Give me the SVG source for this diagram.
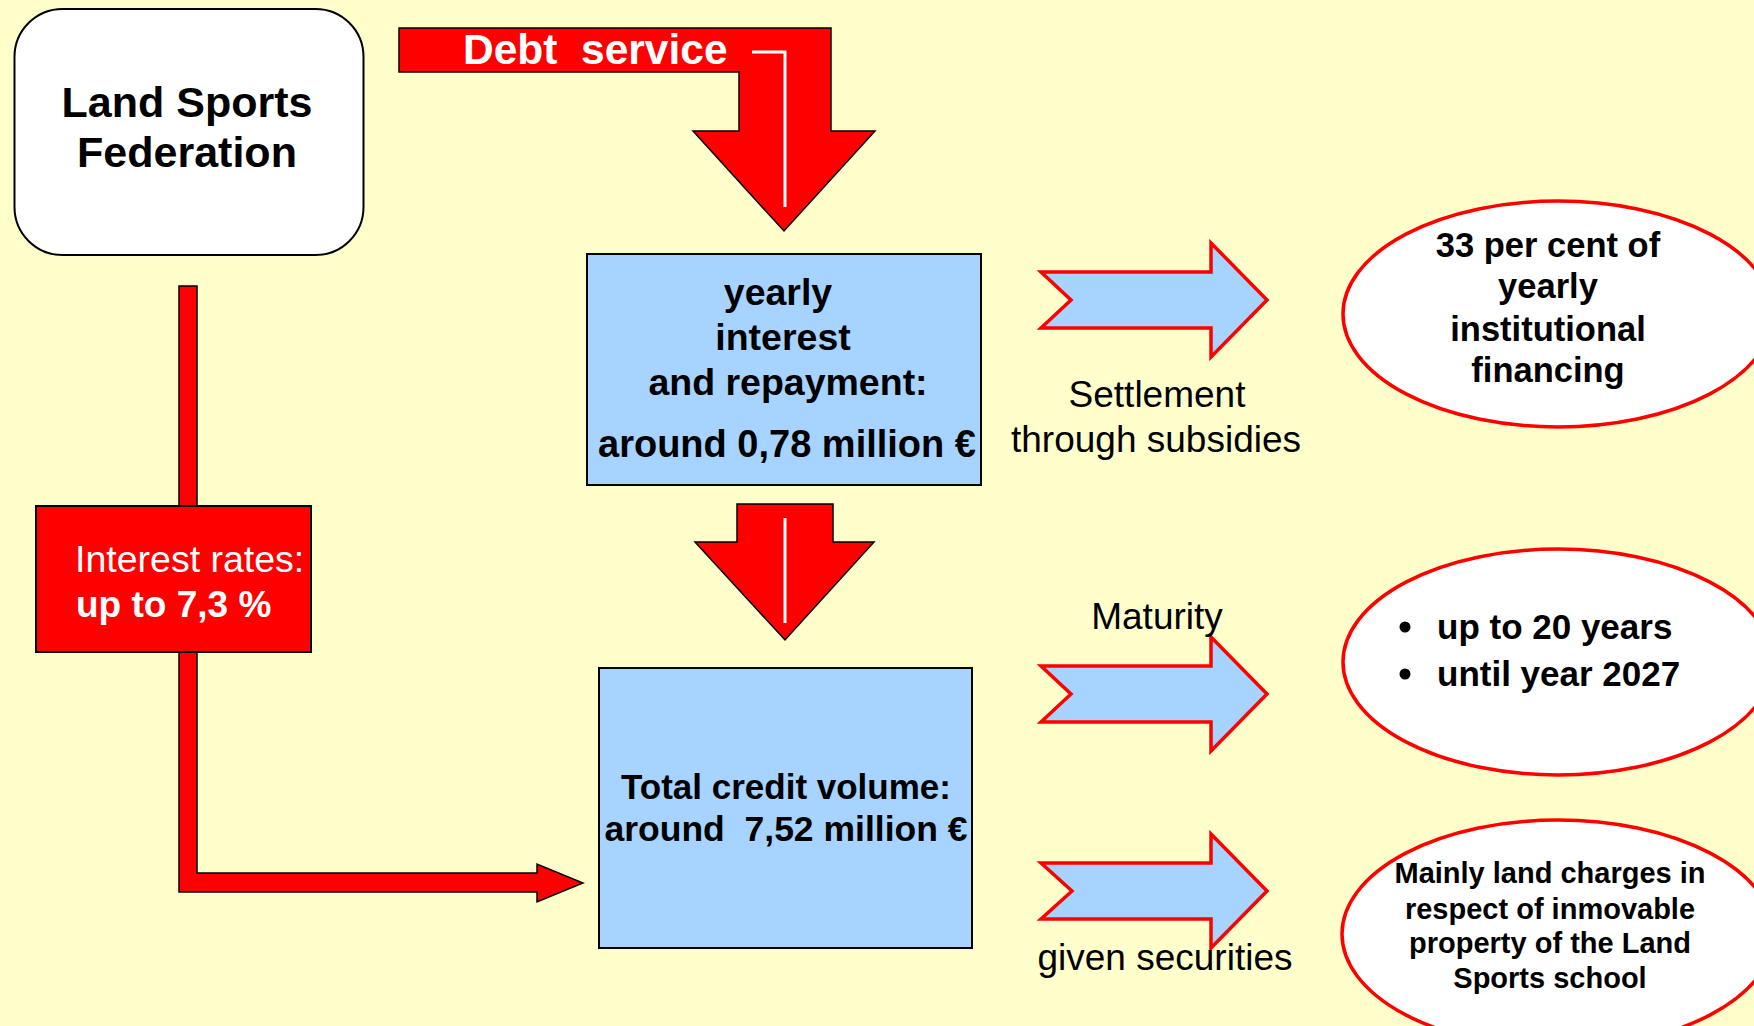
<svg xmlns="http://www.w3.org/2000/svg" width="1754" height="1026" viewBox="0 0 1754 1026">
  <style>
    .bg { fill: #FFFFCC; }
    .redarrow { fill: #FF0000; stroke: #000000; stroke-width: 1.5; stroke-linejoin: miter; }
    .whiteline { fill: none; stroke: #FFFFFF; stroke-width: 3; }
    .chevron { fill: #A6D3FF; stroke: #FF0000; stroke-width: 3.5; stroke-linejoin: miter; }
    .bluebox { fill: #A6D3FF; stroke: #000000; stroke-width: 2; }
    .oval { fill: #FFFFFF; stroke: #FF0000; stroke-width: 3.5; }
    .t { font-family: "Liberation Sans", Arial, sans-serif; fill: #000000; }
    .b { font-weight: bold; }
    .w { fill: #FFFFFF; }
    .mid { text-anchor: middle; }
  </style>

  <rect class="bg" x="0" y="0" width="1754" height="1026"/>

  <!-- connectors -->
  <g id="connectors">
    <!-- debt service bent arrow -->
    <path class="redarrow" d="M399,28 L831,28 L831,131 L875,131 L784,231 L693,131 L739,131 L739,72 L399,72 Z"/>
    <path class="whiteline" d="M752,52 L785,52 L785,207"/>
    <!-- interest rate L-shaped arrow into credit volume -->
    <path class="redarrow" d="M179,286 L197,286 L197,873 L537,873 L537,864 L583,883 L537,902 L537,892 L179,892 Z"/>
    <!-- down arrow between the two blue boxes -->
    <path class="redarrow" d="M737,504 L833,504 L833,542 L874,542 L785,640 L695,542 L737,542 Z"/>
    <path class="whiteline" d="M785,518 L785,623"/>
    <!-- blue chevron arrows -->
    <path class="chevron" d="M1041,272 L1211,272 L1211,243 L1267,300 L1211,357 L1211,328 L1041,328 L1071,300 Z"/>
    <path class="chevron" d="M1041,666 L1211,666 L1211,637 L1267,694 L1211,751 L1211,722 L1041,722 L1071,694 Z"/>
    <path class="chevron" d="M1041,863 L1211,863 L1211,834 L1267,891 L1211,948 L1211,919 L1041,919 L1072,891 Z"/>
    <text class="t mid" x="1157" y="407" font-size="37">Settlement</text>
    <text class="t mid" x="1156" y="452" font-size="37">through subsidies</text>
    <text class="t mid" x="1157" y="629" font-size="37">Maturity</text>
    <text class="t mid" x="1165" y="970" font-size="37">given securities</text>
    <text class="t b w" x="463" y="64" font-size="42.5">Debt &#160;service</text>
  </g>

  <g id="federation">
    <rect x="14.5" y="9" width="349" height="246" rx="48" ry="48" fill="#FFFFFF" stroke="#000000" stroke-width="2"/>
    <text class="t b mid" x="187" y="117" font-size="43">Land Sports</text>
    <text class="t b mid" x="187" y="167" font-size="43">Federation</text>
  </g>

  <g id="interest-rates">
    <rect x="36" y="506" width="275" height="146" fill="#FF0000" stroke="#000000" stroke-width="2"/>
    <text class="t w" x="75" y="572" font-size="37.5">Interest rates:</text>
    <text class="t b w" x="76" y="617" font-size="37">up to 7,3 %</text>
  </g>

  <g id="yearly-payment">
    <rect class="bluebox" x="587" y="254" width="394" height="231"/>
    <text class="t b mid" x="778" y="305" font-size="37.5">yearly</text>
    <text class="t b mid" x="783" y="350" font-size="37.5">interest</text>
    <text class="t b mid" x="788" y="395" font-size="37.5">and repayment:</text>
    <text class="t b mid" x="787" y="457" font-size="38">around 0,78 million €</text>
  </g>

  <g id="credit-volume">
    <rect class="bluebox" x="599" y="668" width="373" height="280"/>
    <text class="t b mid" x="786" y="799" font-size="35">Total credit volume:</text>
    <text class="t b mid" x="786" y="841" font-size="35.5">around &#160;7,52 million €</text>
  </g>

  <g id="institutional-financing">
    <ellipse class="oval" cx="1558" cy="314" rx="215" ry="113"/>
    <text class="t b mid" x="1548" y="257" font-size="34.5">33 per cent of</text>
    <text class="t b mid" x="1548" y="298" font-size="34.5">yearly</text>
    <text class="t b mid" x="1548" y="341" font-size="34.5">institutional</text>
    <text class="t b mid" x="1548" y="382" font-size="34.5">financing</text>
  </g>

  <g id="maturity-terms">
    <ellipse class="oval" cx="1558" cy="662" rx="215" ry="113"/>
    <circle cx="1405" cy="627" r="5.5" fill="#000000"/>
    <text class="t b" x="1437" y="639" font-size="35">up to 20 years</text>
    <circle cx="1405" cy="674" r="5.5" fill="#000000"/>
    <text class="t b" x="1437" y="686" font-size="35">until year 2027</text>
  </g>

  <g id="securities">
    <ellipse class="oval" cx="1558" cy="934" rx="216" ry="114"/>
    <text class="t b mid" x="1550" y="883" font-size="29">Mainly land charges in</text>
    <text class="t b mid" x="1550" y="919" font-size="29">respect of inmovable</text>
    <text class="t b mid" x="1550" y="953" font-size="29">property of the Land</text>
    <text class="t b mid" x="1550" y="988" font-size="29">Sports school</text>
  </g>
</svg>
